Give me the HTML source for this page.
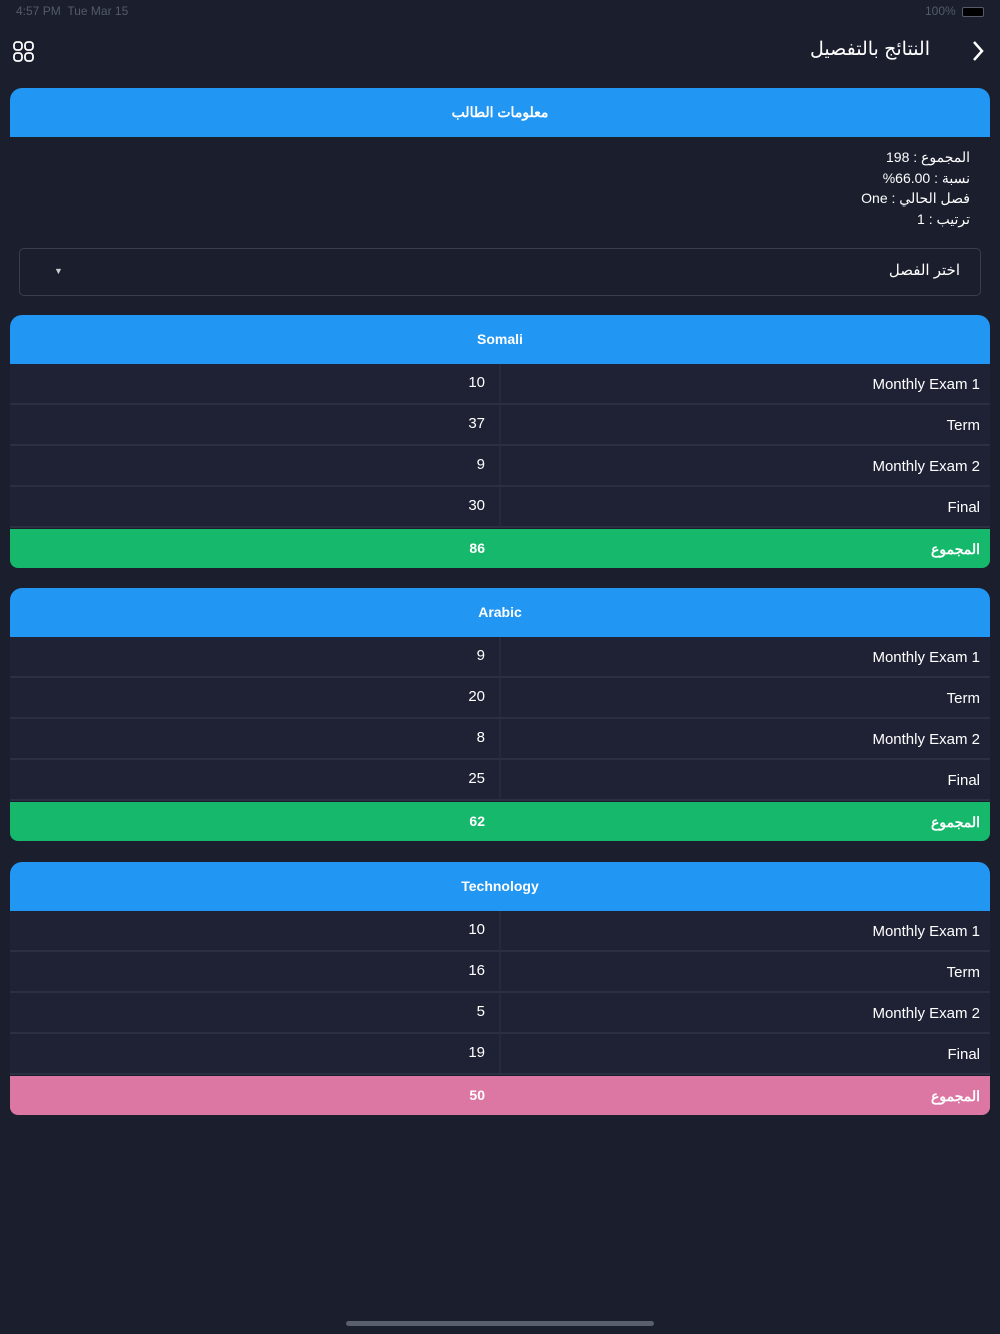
<!DOCTYPE html>
<html><head><meta charset="utf-8"><style>
*{margin:0;padding:0;box-sizing:border-box}
body{width:1000px;height:1334px;background:#1a1e2d;color:#fff;font-family:"Liberation Sans","Noto Sans CJK SC",sans-serif;position:relative;overflow:hidden}
.a{position:absolute}
.hdr{position:absolute;left:10px;width:980px;background:#2196f3;border-radius:12px 12px 0 0;text-align:center;font-weight:bold;font-size:14px}
.row{position:absolute;left:10px;width:980px;height:39px;background:#1e2234;font-size:15px}
.row .v{position:absolute;right:505px;top:10px}
.row .l{position:absolute;right:10px;top:12px}
.row .d{position:absolute;left:489px;top:0;width:2px;height:39px;background:#252a3b}
.tot{position:absolute;left:10px;width:980px;height:39px;border-radius:0 0 8px 8px;font-weight:bold;font-size:14px}
.tot .v{position:absolute;right:505px;top:11px}
.tot .l{position:absolute;right:10px;top:12px}
.sep{position:absolute;left:10px;width:980px;height:2px;background:#2a2f42}
</style></head><body>
<div class="a" style="left:16px;top:4px;font-size:12px;color:#555b6a">4:57 PM&nbsp;&nbsp;Tue Mar 15</div>
<div class="a" style="left:925px;top:4px;font-size:12px;color:#555b6a">100%</div>
<div class="a" style="left:962px;top:7px;width:22px;height:10px;border-radius:2px;background:#000;border:1px solid #555b6a"></div>
<svg class="a" style="left:13px;top:41px" width="22" height="22" fill="none" stroke="#fff" stroke-width="1.8"><rect x="1" y="1" width="8" height="8" rx="3"/><rect x="12" y="1" width="8" height="8" rx="3"/><rect x="1" y="12" width="8" height="8" rx="3"/><rect x="12" y="12" width="8" height="8" rx="3"/></svg>
<div class="a" style="right:70px;top:38px;font-size:19px">النتائج بالتفصيل</div>
<svg class="a" style="left:970px;top:40px" width="16" height="22" fill="none" stroke="#fff" stroke-width="2.5"><path d="M4 2 L12 11 L4 20"/></svg>
<div class="hdr" style="top:88px;height:49px;line-height:49px">معلومات الطالب</div>
<div class="a" style="right:30px;top:147px;font-size:14px;text-align:right;line-height:20.5px" dir="rtl">المجموع : 198<br>نسبة : 66.00%<br>فصل الحالي : One<br>ترتيب : 1</div>
<div class="a" style="left:19px;top:248px;width:962px;height:48px;border:1px solid #3a3f50;border-radius:5px"></div>
<div class="a" style="left:54px;top:266px;font-size:9px;color:#ccc">▼</div>
<div class="a" style="right:40px;top:261px;font-size:15px">اختر الفصل</div>

<div class="hdr" style="top:315px;height:49px;line-height:49px">Somali</div>
<div class="row" style="top:364px"><div class="d"></div><div class="v">10</div><div class="l">Monthly Exam 1</div></div>
<div class="sep" style="top:403px"></div>
<div class="row" style="top:405px"><div class="d"></div><div class="v">37</div><div class="l">Term</div></div>
<div class="sep" style="top:444px"></div>
<div class="row" style="top:446px"><div class="d"></div><div class="v">9</div><div class="l">Monthly Exam 2</div></div>
<div class="sep" style="top:485px"></div>
<div class="row" style="top:487px"><div class="d"></div><div class="v">30</div><div class="l">Final</div></div>
<div class="sep" style="top:526px"></div>
<div class="tot" style="top:529px;background:#16b86c"><div class="v">86</div><div class="l">المجموع</div></div>

<div class="hdr" style="top:588px;height:49px;line-height:49px">Arabic</div>
<div class="row" style="top:637px"><div class="d"></div><div class="v">9</div><div class="l">Monthly Exam 1</div></div>
<div class="sep" style="top:676px"></div>
<div class="row" style="top:678px"><div class="d"></div><div class="v">20</div><div class="l">Term</div></div>
<div class="sep" style="top:717px"></div>
<div class="row" style="top:719px"><div class="d"></div><div class="v">8</div><div class="l">Monthly Exam 2</div></div>
<div class="sep" style="top:758px"></div>
<div class="row" style="top:760px"><div class="d"></div><div class="v">25</div><div class="l">Final</div></div>
<div class="sep" style="top:799px"></div>
<div class="tot" style="top:802px;background:#16b86c"><div class="v">62</div><div class="l">المجموع</div></div>

<div class="hdr" style="top:862px;height:49px;line-height:49px">Technology</div>
<div class="row" style="top:911px"><div class="d"></div><div class="v">10</div><div class="l">Monthly Exam 1</div></div>
<div class="sep" style="top:950px"></div>
<div class="row" style="top:952px"><div class="d"></div><div class="v">16</div><div class="l">Term</div></div>
<div class="sep" style="top:991px"></div>
<div class="row" style="top:993px"><div class="d"></div><div class="v">5</div><div class="l">Monthly Exam 2</div></div>
<div class="sep" style="top:1032px"></div>
<div class="row" style="top:1034px"><div class="d"></div><div class="v">19</div><div class="l">Final</div></div>
<div class="sep" style="top:1073px"></div>
<div class="tot" style="top:1076px;background:#db77a2"><div class="v">50</div><div class="l">المجموع</div></div>

<div class="a" style="left:346px;top:1321px;width:308px;height:5px;border-radius:3px;background:#5a5f6c"></div>
</body></html>
